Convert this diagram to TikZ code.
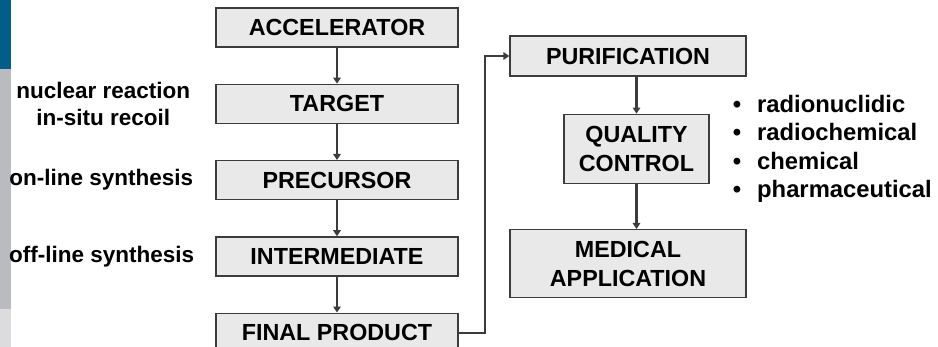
\documentclass[tikz,border=0pt]{standalone}
\usepackage{fontspec}
\setmainfont{Liberation Sans}
\usetikzlibrary{arrows.meta,positioning}
\definecolor{barraazul}{RGB}{0,94,136}
\definecolor{barragris}{RGB}{185,187,192}
\definecolor{barraclara}{RGB}{220,220,222}
\definecolor{cajafondo}{RGB}{233,233,233}
\definecolor{cajaborde}{RGB}{60,60,60}
\tikzset{
  caja/.style={rectangle,draw=cajaborde,line width=1.3pt,fill=cajafondo,align=center,
    minimum width=242pt,minimum height=39pt,inner sep=0pt,font=\fontsize{23.3}{29}\selectfont\bfseries},
  flecha/.style={-{Triangle[length=6pt,width=7.5pt]},cajaborde,line width=2.3pt},
  etiqueta/.style={align=center,inner sep=0pt,font=\fontsize{22.5}{27}\selectfont\bfseries},
}
\begin{document}
\begin{tikzpicture}[x=1pt,y=-1pt,node distance=36pt]
  \useasboundingbox (0,0) rectangle (938,347);
  \clip (0,0) rectangle (938,347);
  % barra lateral
  \fill[barraazul] (0,0) rectangle (11,69);
  \fill[barragris] (0,69) rectangle (11,309);
  \fill[barraclara] (0,309) rectangle (11,347);
  % columna izquierda
  \node[caja] (acc) at (337,27.5) {ACCELERATOR};
  \node[caja,below=of acc] (tgt) {TARGET};
  \node[caja,below=of tgt] (prec) {PRECURSOR};
  \node[caja,below=of prec] (inter) {INTERMEDIATE};
  \node[caja,below=of inter] (fin) {FINAL PRODUCT};
  \draw[flecha] (acc) -- (tgt);
  \draw[flecha] (tgt) -- (prec);
  \draw[flecha] (prec) -- (inter);
  \draw[flecha] (inter) -- (fin);
  \node[etiqueta,left=25pt of tgt] (nuc) {nuclear reaction\\in-situ recoil};
  \node[etiqueta,left=22pt of prec] (onl) {on-line synthesis};
  \node[etiqueta,left=21pt of inter] (offl) {off-line synthesis};
  % columna derecha
  \node[caja,minimum width=236pt,minimum height=40pt] (purif) at (628,56) {PURIFICATION};
  \node[caja,minimum width=145pt,minimum height=69pt,below=37pt of purif,xshift=8.5pt] (qc) {QUALITY\\CONTROL};
  \node[caja,minimum width=236pt,minimum height=68pt,below=45pt of qc,xshift=-8.5pt] (med) {MEDICAL\\APPLICATION};
  \draw[flecha] (fin.east) -- ++(26,0) |- (purif.west);
  \draw[flecha] (purif.south -| qc.north) -- (qc.north);
  \draw[flecha] (qc.south) -- (qc.south |- med.north);
  \node[etiqueta,align=left,font=\fontsize{23.8}{28.5}\selectfont\bfseries,right=23pt of qc] (lista)
    {\textbullet\hspace{16pt}radionuclidic\\\textbullet\hspace{16pt}radiochemical\\
     \textbullet\hspace{16pt}chemical\\\textbullet\hspace{16pt}pharmaceutical};
\end{tikzpicture}
\end{document}
